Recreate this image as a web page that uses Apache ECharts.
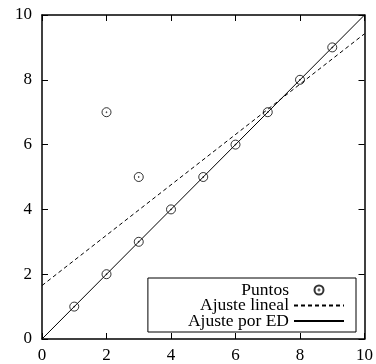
<!DOCTYPE html>
<html>
<head>
<meta charset="utf-8">
<script src="https://cdn.jsdelivr.net/npm/echarts@6/dist/echarts.min.js"></script>
<style>
  html, body { margin: 0; padding: 0; background: #fff; }
  #chart { width: 376px; height: 364px; }
</style>
</head>
<body>
<div id="chart"></div>
<script>
// datos
const puntos = [[1, 1], [2, 2], [3, 3], [4, 4], [5, 5], [6, 6], [7, 7], [8, 8], [9, 9], [2, 7], [3, 5]]
const ajusteLineal = [[0, 1.65], [10, 9.42]]
const ajusteED = [[0, 0], [10, 10]]
const nombres = ['Puntos', 'Ajuste lineal', 'Ajuste por ED']

const fuente = 'Liberation Serif'
// circulo con punto en el centro
const simbolo = 'path://M0 -10A10 10 0 1 1 0 10A10 10 0 1 1 0 -10ZM0 -1A1 1 0 1 1 0 1A1 1 0 1 1 0 -1Z'

const myChart = echarts.init(document.getElementById('chart'))

function eje(pos, etiquetas) {
  return {
    type: 'value',
    position: pos,
    min: 0,
    max: 10,
    interval: 2,
    splitLine: { show: false },
    axisLine: { show: true, onZero: false, lineStyle: { color: '#000', width: 1.5 } },
    axisTick: { show: true, inside: true, length: 6, lineStyle: { color: '#000', width: 1 } },
    axisLabel: {
      show: etiquetas,
      color: '#000',
      fontFamily: fuente,
      fontSize: 17,
      margin: pos === 'left' ? 10 : 8
    }
  }
}

let option = {
  animation: false,
  grid: { left: 42, right: 9, top: 15, bottom: 23 },
  xAxis: [eje('bottom', true), eje('top', false)],
  yAxis: [eje('left', true), eje('right', false)],
  legend: {
    data: [
      { name: nombres[0] },
      { name: nombres[1], itemStyle: { opacity: 0 } },
      { name: nombres[2], itemStyle: { opacity: 0 } }
    ],
    orient: 'vertical',
    align: 'right',
    right: 20,
    bottom: 32,
    itemWidth: 50,
    itemHeight: 9,
    itemGap: -2.5,
    padding: [3, 11, 2, 40],
    borderColor: '#000',
    borderWidth: 1,
    borderRadius: 0,
    backgroundColor: '#fff',
    textStyle: { color: '#000', fontFamily: fuente, fontSize: 17.5, lineHeight: 16 }
  },
  series: [
    {
      name: 'Ajuste lineal',
      type: 'line',
      data: ajusteLineal,
      symbol: 'none',
      z: 2,
      lineStyle: { color: '#000', width: 1, type: [4, 3] },
      itemStyle: { color: '#000' }
    },
    {
      name: 'Ajuste por ED',
      type: 'line',
      data: ajusteED,
      symbol: 'none',
      z: 2,
      lineStyle: { color: '#000', width: 1 },
      itemStyle: { color: '#000' }
    },
    {
      name: 'Puntos',
      type: 'scatter',
      data: puntos,
      symbol: simbolo,
      symbolSize: 9,
      symbolKeepAspect: true,
      z: 3,
      itemStyle: { color: 'rgba(0,0,0,0)', borderColor: '#000', borderWidth: 1 }
    }
  ]
}

myChart.setOption(option)
</script>
</body>
</html>
